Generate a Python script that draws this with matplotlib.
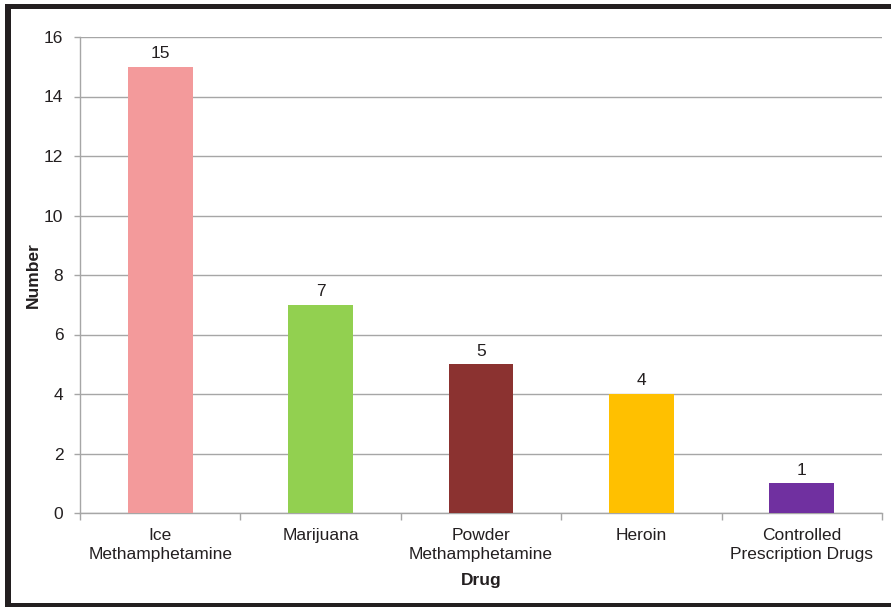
import matplotlib
matplotlib.use("Agg")
import matplotlib.pyplot as plt
from matplotlib.patches import Rectangle

drugs = ["Ice\nMethamphetamine", "Marijuana", "Powder\nMethamphetamine",
         "Heroin", "Controlled\nPrescription Drugs"]
counts = [15, 7, 5, 4, 1]
bar_colors = ["#F39A9B", "#92D050", "#8B3230", "#FFC000", "#7030A0"]
y_ticks = [0, 2, 4, 6, 8, 10, 12, 14, 16]

plt.rcParams["font.family"] = ["Liberation Sans", "DejaVu Sans"]
txt = "#231F20"
grid = "#A6A6A6"

W, H = 891, 607
fig = plt.figure(figsize=(W / 100, H / 100), dpi=100)
ax = fig.add_axes([80 / W, 1 - 513 / H, (882 - 80) / W, (513 - 37) / H])

x = range(len(drugs))
bars = ax.bar(x, counts, width=0.405, color=bar_colors, zorder=3)
for b, v in zip(bars, counts):
    ax.annotate(str(v), (b.get_x() + b.get_width() / 2, v),
                xytext=(0, 4), textcoords="offset points",
                ha="center", va="bottom", fontsize=12.5, color=txt)

ax.set_xlim(-0.5, len(drugs) - 0.5)
ax.set_ylim(0, 16)
ax.set_yticks(y_ticks)
ax.set_yticklabels([str(t) for t in y_ticks], fontsize=12.5, color=txt)
ax.yaxis.grid(True, color=grid, linewidth=1.0, zorder=0)
ax.set_axisbelow(True)

ax.set_xticks([i + 0.5 for i in range(-1, len(drugs))], minor=False)
ax.set_xticklabels([""] * (len(drugs) + 1))
ax.set_xticks(list(x), minor=True)
ax.set_xticklabels(drugs, minor=True, fontsize=12.5, color=txt,
                   linespacing=1.32)
ax.tick_params(axis="x", which="major", length=5, color=grid, width=1)
ax.tick_params(axis="x", which="minor", length=0, pad=11)
ax.tick_params(axis="y", length=4, color=grid, width=1, pad=8)

for side in ["top", "right"]:
    ax.spines[side].set_visible(False)
for side in ["left", "bottom"]:
    ax.spines[side].set_color(grid)
    ax.spines[side].set_linewidth(1.0)

ax.set_ylabel("Number", fontsize=12.5, fontweight="bold", color=txt)
ax.yaxis.set_label_coords(-39 / (882 - 80), 0.5)
ax.set_xlabel("Drug", fontsize=12.5, fontweight="bold", color=txt)
ax.xaxis.set_label_coords(0.5, -60 / (513 - 37))

# dark frame on the left, top and bottom edges
frame = "#231F20"
fig.add_artist(Rectangle((5 / W, 0), 6 / W, 1 - 4 / H, transform=fig.transFigure,
                         color=frame, lw=0))
fig.add_artist(Rectangle((5 / W, 1 - 9 / H), 1, 5 / H, transform=fig.transFigure,
                         color=frame, lw=0))
fig.add_artist(Rectangle((5 / W, 0), 1, 4 / H, transform=fig.transFigure,
                         color=frame, lw=0))

fig.savefig("out.png", dpi=100)
